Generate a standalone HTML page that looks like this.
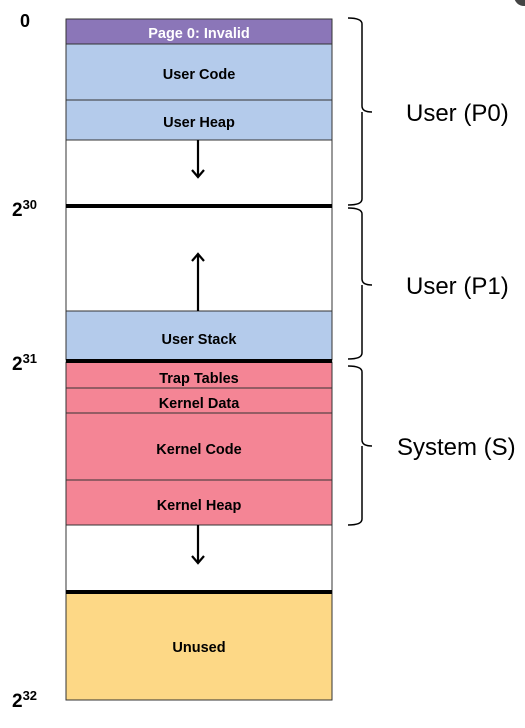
<!DOCTYPE html>
<html><head><style>
body{margin:0;background:#fff;width:525px;height:723px;overflow:hidden;font-family:"Liberation Sans",sans-serif;}
</style></head><body>
<svg width="525" height="723" xmlns="http://www.w3.org/2000/svg" font-family="Liberation Sans, sans-serif">
<circle cx="524" cy="-4" r="10" fill="#444"/>
<g stroke="#333" stroke-width="1">
<rect x="66" y="19" width="266" height="25" fill="#8b76b8"/>
<rect x="66" y="44" width="266" height="56" fill="#b4cbeb"/>
<rect x="66" y="100" width="266" height="40" fill="#b4cbeb"/>
<rect x="66" y="140" width="266" height="66" fill="#fff"/>
<rect x="66" y="206" width="266" height="105" fill="#fff"/>
<rect x="66" y="311" width="266" height="49" fill="#b4cbeb"/>
<rect x="66" y="362" width="266" height="26" fill="#f48595"/>
<rect x="66" y="388" width="266" height="25" fill="#f48595"/>
<rect x="66" y="413" width="266" height="67" fill="#f48595"/>
<rect x="66" y="480" width="266" height="45" fill="#f48595"/>
<rect x="66" y="525" width="266" height="67" fill="#fff"/>
<rect x="66" y="592" width="266" height="108" fill="#fdd886"/>
</g>
<g fill="#000">
<rect x="66" y="204" width="266" height="4"/>
<rect x="66" y="359" width="266" height="4"/>
<rect x="66" y="590" width="266" height="4"/>
</g>
<g stroke="#000" stroke-width="2.2" fill="none">
<line x1="198" y1="140" x2="198" y2="177"/><polyline points="192,170 198,177 204,170"/>
<line x1="198" y1="311" x2="198" y2="254"/><polyline points="192,261 198,254 204,261"/>
<line x1="198" y1="525" x2="198" y2="563"/><polyline points="192,556 198,563 204,556"/>
</g>
<g stroke="#000" stroke-width="1.5" fill="none">
<path d="M348,18 Q362,18 362,24 L362,106 Q362,112 372,112 M362,112 Q362,112 362,118 L362,199 Q362,205 348,205"/>
<path d="M348,208 Q362,208 362,214 L362,279 Q362,285 372,285 M362,285 L362,353 Q362,359 348,359"/>
<path d="M348,366 Q362,366 362,372 L362,440 Q362,446 372,446 M362,446 L362,519 Q362,525 348,525"/>
</g>
<g font-size="24" fill="#000">
<text x="406" y="121">User (P0)</text>
<text x="406" y="294">User (P1)</text>
<text x="397" y="455">System (S)</text>
</g>
<g font-size="14.5" font-weight="bold" text-anchor="middle" fill="#000">
<text x="199" y="38" fill="#fff">Page 0: Invalid</text>
<text x="199" y="79">User Code</text>
<text x="199" y="127">User Heap</text>
<text x="199" y="344">User Stack</text>
<text x="199" y="383">Trap Tables</text>
<text x="199" y="408">Kernel Data</text>
<text x="199" y="454">Kernel Code</text>
<text x="199" y="510">Kernel Heap</text>
<text x="199" y="652">Unused</text>
</g>
<g font-weight="bold" fill="#000">
<text x="20" y="27" font-size="18">0</text>
<text x="12" y="216" font-size="19">2<tspan font-size="13" dy="-7">30</tspan></text>
<text x="12" y="370" font-size="19">2<tspan font-size="13" dy="-7">31</tspan></text>
<text x="12" y="707" font-size="19">2<tspan font-size="13" dy="-7">32</tspan></text>
</g>
</svg>
</body></html>
